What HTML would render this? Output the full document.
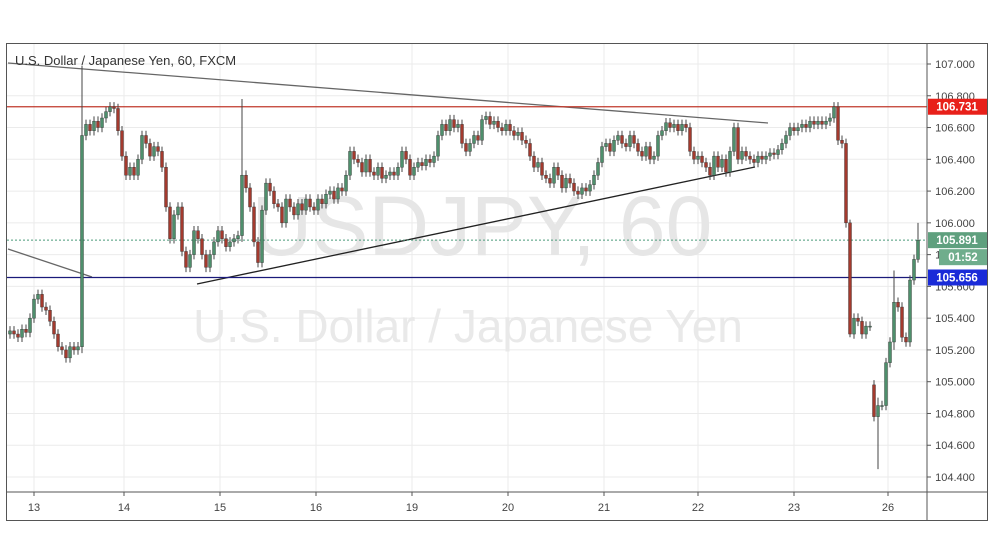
<!DOCTYPE html>
<html><head><meta charset="utf-8"><style>
html,body{margin:0;padding:0;background:#fff;width:991px;height:556px;overflow:hidden}
svg{display:block;font-family:"Liberation Sans",sans-serif}
</style></head><body>
<svg id="chart" width="991" height="556" viewBox="0 0 991 556" xmlns="http://www.w3.org/2000/svg">
<rect x="0" y="0" width="991" height="556" fill="#fff"/>
<g id="grid"></g>
<text x="482" y="255" text-anchor="middle" font-size="84" fill="#e6e6e6">USDJPY, 60</text>
<text x="468" y="342" text-anchor="middle" font-size="46" fill="#e9e9e9">U.S. Dollar / Japanese Yen</text>
<g id="lines"></g>
<g id="candles"></g>
<g id="axes"></g>
<text x="15" y="65" font-size="13" fill="#333">U.S. Dollar / Japanese Yen, 60, FXCM</text>
</svg>
<script>
const closes = [105.32,105.30,105.28,105.33,105.31,105.40,105.52,105.55,105.47,105.45,105.38,105.30,105.22,105.20,105.15,105.22,105.20,105.22,106.55,
106.62,106.58,106.64,106.60,106.66,106.70,106.73,106.72,106.58,106.42,106.30,106.35,106.30,106.40,106.55,106.50,106.42,106.48,106.45,
106.35,106.10,105.90,106.05,106.10,105.82,105.72,105.80,105.95,105.90,105.80,105.72,105.80,105.88,105.95,105.90,105.85,105.88,105.90,105.92,
106.30,106.22,106.10,105.88,105.75,106.08,106.25,106.20,106.12,106.10,106.00,106.15,106.10,106.05,106.12,106.08,106.15,106.10,106.08,106.15,106.12,
106.18,106.20,106.15,106.22,106.20,106.30,106.45,106.40,106.38,106.32,106.40,106.32,106.30,106.35,106.28,106.30,106.32,106.30,106.35,106.45,
106.40,106.30,106.35,106.38,106.36,106.40,106.38,106.42,106.55,106.62,106.58,106.65,106.60,106.62,106.50,106.45,106.50,106.55,106.52,106.65,
106.67,106.62,106.64,106.60,106.58,106.62,106.58,106.55,106.57,106.52,106.50,106.42,106.35,106.38,106.30,106.28,106.25,106.35,106.30,106.22,
106.28,106.25,106.20,106.18,106.22,106.20,106.24,106.30,106.38,106.48,106.50,106.45,106.52,106.55,106.50,106.48,106.55,106.50,106.45,106.42,
106.48,106.40,106.42,106.55,106.58,106.63,106.60,106.62,106.58,106.62,106.60,106.45,106.40,106.42,106.38,106.35,106.30,106.42,106.35,106.40,
106.32,106.45,106.60,106.40,106.45,106.42,106.40,106.38,106.42,106.40,106.42,106.44,106.43,106.46,106.50,106.55,106.60,106.58,106.60,106.62,
106.60,106.64,106.62,106.64,106.62,106.64,106.66,106.73,106.52,106.50,106.00,105.30,105.40,105.38,105.30,105.35,105.35,104.78,104.85,104.85,
105.12,105.25,105.50,105.47,105.28,105.25,105.64,105.77,105.89];
const spikeIdx = [18, 58, 210, 217, 221, 227];
const spikeHigh = [106.99, 106.78, 106.02, 104.90, 105.70, 106.00];
const spikeLow = [105.18, 105.88, 105.28, 104.45, 105.20, 105.75];
const gapIdx = [216];
const gapOpen = [104.98];
const priceTicks = [107.0,106.8,106.6,106.4,106.2,106.0,105.8,105.6,105.4,105.2,105.0,104.8,104.6,104.4];
const dayLabels = ["13","14","15","16","19","20","21","22","23","26"];
const dayIndex = [6,28.5,52.5,76.5,100.5,124.5,148.5,172,196,219.5];
const levels = [106.731, 105.891, 105.656];

const NS="http://www.w3.org/2000/svg";
const L=7,R=927,T=43,B=492;
const y = p => 64 + (107 - p) * 158.85;
const x = i => 10 + i * 4;
function mk(tag, attrs, parent){const e=document.createElementNS(NS,tag);for(const k in attrs)e.setAttribute(k,attrs[k]);parent.appendChild(e);return e;}
const grid=document.getElementById('grid'),lines=document.getElementById('lines'),cg=document.getElementById('candles'),ax=document.getElementById('axes');

priceTicks.forEach(p=>{
  const g=mk('line',{x1:L,x2:R,y1:y(p),y2:y(p),stroke:'#ebebeb','stroke-width':1},grid);
  
  
  const t=mk('text',{x:955,y:y(p)+4,'font-size':11,fill:'#444','text-anchor':'middle'},ax);
  t.textContent=p.toFixed(3);
  
  
  mk('line',{x1:R,x2:R+4,y1:y(p),y2:y(p),stroke:'#555'},ax);
});
dayLabels.forEach((d,k)=>{
  const xx=x(dayIndex[k]);
  const g=mk('line',{x1:xx,x2:xx,y1:T,y2:B,stroke:'#ebebeb'},grid);
  
  
  mk('line',{x1:xx,x2:xx,y1:B,y2:B+4,stroke:'#555'},ax);
  const t=mk('text',{x:xx,y:511,'font-size':11,fill:'#444','text-anchor':'middle'},ax);
  t.textContent=d;
  
  
});

const d1=mk('line',{x1:8,y1:63,x2:768,y2:123,stroke:'#666','stroke-width':1.3},lines);

const d2=mk('line',{x1:8,y1:249,x2:92,y2:277,stroke:'#666','stroke-width':1.3},lines);

const d3=mk('line',{x1:197,y1:284,x2:755,y2:167,stroke:'#222','stroke-width':1.3},lines);

const rl=mk('line',{x1:L,x2:R,y1:y(levels[0]),y2:y(levels[0]),stroke:'#c0392b','stroke-width':1.3},lines);

const gl=mk('line',{x1:L,x2:R,y1:y(levels[1]),y2:y(levels[1]),stroke:'#4a9a7a','stroke-dasharray':'2,2'},lines);

const bl=mk('line',{x1:L,x2:R,y1:y(levels[2]),y2:y(levels[2]),stroke:'#1a1a7a','stroke-width':1.3},lines);


closes.forEach((c,i)=>{
  const gk = gapIdx.indexOf(i);
  const o = gk>=0 ? gapOpen[gk] : (i===0 ? c-0.02 : closes[i-1]);
  const k = spikeIdx.indexOf(i);
  const hi = k>=0 ? spikeHigh[k] : Math.max(o,c)+0.03;
  const lo = k>=0 ? spikeLow[k] : Math.min(o,c)-0.03;
  const up = c>=o;
  const col = up ? '#4e8f6c' : '#a33a2e';
  const xx = x(i);
  const w=mk('line',{x1:xx,x2:xx,y1:y(hi),y2:y(lo),stroke:'#444','stroke-width':1},cg);
  
  
  const top=y(Math.max(o,c)), h=Math.max(1,Math.abs(y(o)-y(c)));
  const b=mk('rect',{x:xx-1.5,y:top,width:3,height:h,fill:col,stroke:'#333','stroke-width':0.4},cg);
  
  
});

mk('rect',{x:6.5,y:43.5,width:981,height:477,fill:'none',stroke:'#555'},ax);
mk('line',{x1:6,x2:988,y1:B,y2:B,stroke:'#555'},ax);
mk('line',{x1:R,x2:R,y1:43,y2:521,stroke:'#555'},ax);

function tag(p,fill,name,txt){
  const g=mk('g',{},ax);
  
  
  mk('rect',{x:R+1,y:y(p)-8,width:59,height:16,fill:fill},g);
  const t=mk('text',{x:R+30,y:y(p)+4,'font-size':11.5,'font-weight':'bold',fill:'#fff','text-anchor':'middle'},g);
  t.textContent=txt;
}
tag(levels[0],'#e8201a','resistance-price-label','106.731');
tag(levels[1],'#5fa07e','last-price-label','105.891');
const cd=mk('g',{},ax);


mk('rect',{x:R+12,y:y(levels[1])+9,width:48,height:16,fill:'#6fad8c'},cd);
const ct=mk('text',{x:R+36,y:y(levels[1])+21,'font-size':11.5,'font-weight':'bold',fill:'#fff','text-anchor':'middle'},cd);
ct.textContent='01:52';
tag(levels[2],'#1a2bd8','support-price-label','105.656');
</script>
</body></html>
